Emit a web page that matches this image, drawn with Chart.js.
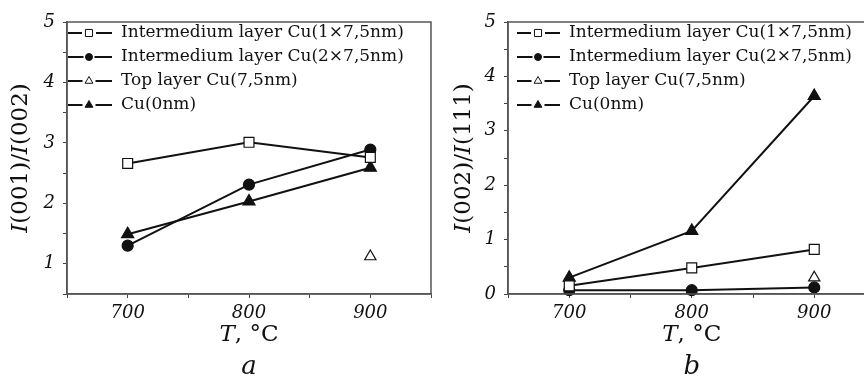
<!DOCTYPE html>
<html>
<head>
<meta charset="utf-8">
<script src="https://cdn.jsdelivr.net/npm/chart.js@4"></script>
<style>
  html, body { margin: 0; padding: 0; background: #fff; }
  #wrap { display: flex; width: 864px; height: 385px; }
  .panel { position: relative; width: 432px; height: 385px; overflow: hidden; }
</style>
</head>
<body>
<div id="wrap">
  <div class="panel"><canvas id="chartA" width="432" height="385"></canvas></div>
  <div class="panel"><canvas id="chartB" width="446" height="385"></canvas></div>
</div>
<script>
// temperatures, °C
const temps = [700, 800, 900];
const seriesNames = ['Intermedium layer Cu(1×7,5nm)', 'Intermedium layer Cu(2×7,5nm)', 'Top layer Cu(7,5nm)', 'Cu(0nm)'];

// panel a: I(001)/I(002)
const aCu1x = [2.66, 3.01, 2.76];
const aCu2x = [1.30, 2.31, 2.89];
const aTop  = [null, null, 1.12];
const aCu0  = [1.49, 2.03, 2.59];

// panel b: I(002)/I(111)
const bCu1x = [0.15, 0.48, 0.82];
const bCu2x = [0.07, 0.07, 0.12];
const bTop  = [null, null, 0.30];
const bCu0  = [0.30, 1.16, 3.64];

const xTicks = [650, 700, 750, 800, 850, 900, 950];

const SERIF = '"DejaVu Serif", serif';
const INK = '#111';

// marker look per series: style, filled, radius in plot, radius in legend
const markers = [
  { style: 'rect', filled: false, r: 7, lr: 5 },
  { style: 'circle', filled: true, r: 5.5, lr: 3.5 },
  { style: 'triangle', filled: false, r: 6.5, lr: 4.5 },
  { style: 'triangle', filled: true, r: 7, lr: 4.5 }
];

const drawMixed = (ctx, parts, size, cx, cy) => {
  const fontOf = (it) => (it ? 'italic ' : '') + size + 'px ' + SERIF;
  let total = 0;
  parts.forEach(p => { ctx.font = fontOf(p[1]); total += ctx.measureText(p[0]).width; });
  let x = cx - total / 2;
  ctx.textAlign = 'left';
  ctx.textBaseline = 'middle';
  parts.forEach(p => {
    ctx.font = fontOf(p[1]);
    ctx.fillText(p[0], x, cy);
    x += ctx.measureText(p[0]).width;
  });
};

const makeChart = (id, series, cfg) => {
  const canvas = document.getElementById(id);

  const decorPlugin = {
    id: 'decor',
    afterDraw(chart) {
      const { ctx, chartArea: ca } = chart;
      ctx.save();
      // frame
      ctx.strokeStyle = '#555';
      ctx.lineWidth = 1.5;
      ctx.strokeRect(ca.left, ca.top, ca.right - ca.left, ca.bottom - ca.top);

      ctx.fillStyle = INK;
      // y title
      ctx.save();
      ctx.translate(cfg.yTitleX, (ca.top + ca.bottom) / 2);
      ctx.rotate(-Math.PI / 2);
      drawMixed(ctx, cfg.yTitle, 23, 0, 0);
      ctx.restore();
      // x title
      const cx = (ca.left + ca.right) / 2;
      drawMixed(ctx, [['T', true], [', °C', false]], 23, cx, 335);
      // panel letter
      drawMixed(ctx, [[cfg.letter, true]], 26, cx, 367);

      // legend
      const lg = cfg.legend;
      seriesNames.forEach((name, i) => {
        const y = ca.top + 11 + i * 24;
        const m = markers[i];
        const x0 = ca.left + lg.x0, x1 = ca.left + lg.x1, xm = ca.left + lg.xm;
        const gap = m.lr + 2;
        ctx.strokeStyle = INK;
        ctx.lineWidth = 2;
        ctx.beginPath();
        ctx.moveTo(x0, y); ctx.lineTo(xm - gap, y);
        ctx.moveTo(xm + gap, y); ctx.lineTo(x1, y);
        ctx.stroke();
        ctx.fillStyle = m.filled ? INK : '#fff';
        ctx.strokeStyle = INK;
        ctx.lineWidth = 1;
        Chart.helpers.drawPoint(ctx, { pointStyle: m.style, radius: m.lr, rotation: 0, borderWidth: 1 }, xm, y);
        ctx.fillStyle = INK;
        ctx.font = '17px ' + SERIF;
        ctx.textAlign = 'left';
        ctx.textBaseline = 'middle';
        ctx.fillText(name, ca.left + lg.text, y);
      });
      ctx.restore();
    }
  };

  return new Chart(canvas.getContext('2d'), {
    type: 'line',
    data: {
      datasets: series.map((vals, i) => ({
        label: seriesNames[i],
        data: temps.map((t, k) => ({ x: t, y: vals[k] })),
        borderColor: INK,
        borderWidth: 2,
        pointStyle: markers[i].style,
        pointRadius: markers[i].r,
        pointBackgroundColor: markers[i].filled ? INK : '#fff',
        pointBorderColor: INK,
        pointBorderWidth: 1.2,
        tension: 0,
        clip: false
      }))
    },
    options: {
      responsive: false,
      animation: false,
      events: [],
      layout: { autoPadding: false, padding: { top: 22, left: 0, right: cfg.padRight, bottom: 0 } },
      plugins: { legend: { display: false }, tooltip: { enabled: false } },
      scales: {
        x: {
          type: 'linear',
          min: 650,
          max: 950,
          afterBuildTicks: (s) => { s.ticks = xTicks.map(v => ({ value: v })); },
          afterFit: (s) => { s.height = 91; s.paddingLeft = 0; s.paddingRight = 0; },
          ticks: {
            callback: (v) => temps.includes(v) ? String(v) : '',
            font: { family: SERIF, style: 'italic', size: 18 },
            color: INK,
            padding: 5,
            maxRotation: 0,
            autoSkip: false
          },
          grid: { drawOnChartArea: false, tickLength: 4, tickColor: '#444', tickWidth: 1 },
          border: { color: '#555', width: 1.5 }
        },
        y: {
          min: cfg.yMin,
          max: 5,
          afterFit: (s) => { s.width = cfg.yAxisWidth; s.paddingTop = 0; s.paddingBottom = 0; },
          ticks: {
            stepSize: 0.5,
            callback: (v) => Number.isInteger(v) ? String(v) : '',
            font: { family: SERIF, style: 'italic', size: 18 },
            color: INK,
            padding: 8,
            autoSkip: false
          },
          grid: { drawOnChartArea: false, tickLength: 4, tickColor: '#444', tickWidth: 1 },
          border: { color: '#555', width: 1.5 }
        }
      }
    },
    plugins: [decorPlugin]
  });
};

makeChart('chartA', [aCu1x, aCu2x, aTop, aCu0], {
  yMin: 0.5,
  yAxisWidth: 67,
  padRight: 1,
  yTitleX: 21,
  yTitle: [['I', true], ['(001)/', false], ['I', true], ['(002)', false]],
  letter: 'a',
  legend: { x0: 1, x1: 45, xm: 22, text: 54 }
});

makeChart('chartB', [bCu1x, bCu2x, bTop, bCu0], {
  yMin: 0,
  yAxisWidth: 76,
  padRight: 2.5,
  yTitleX: 32,
  yTitle: [['I', true], ['(002)/', false], ['I', true], ['(111)', false]],
  letter: 'b',
  legend: { x0: 9, x1: 52, xm: 30, text: 61 }
});
</script>
</body>
</html>
